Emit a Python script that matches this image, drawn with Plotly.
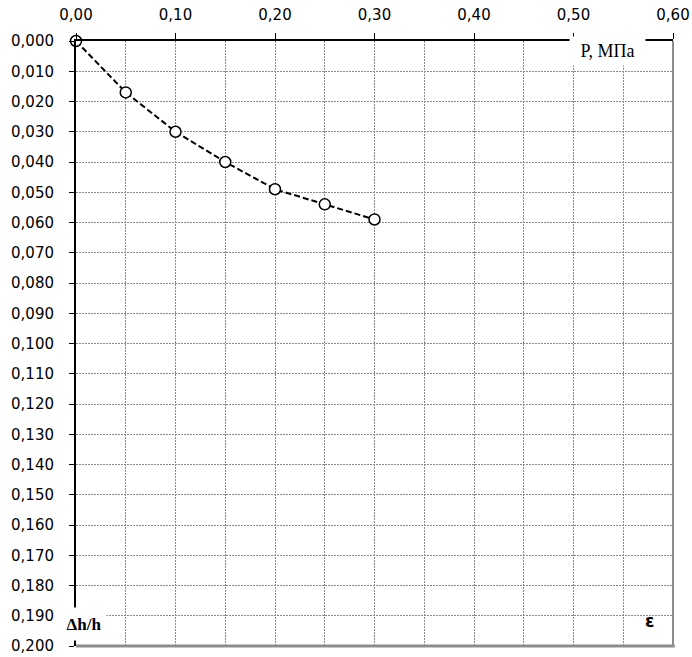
import plotly.graph_objects as go

# Data
pressure = [0.00, 0.05, 0.10, 0.15, 0.20, 0.25, 0.30]
strain = [0.000, 0.017, 0.030, 0.040, 0.049, 0.054, 0.059]

x_tickvals = [0.0, 0.1, 0.2, 0.3, 0.4, 0.5, 0.6]
x_ticktext = ["0,00", "0,10", "0,20", "0,30", "0,40", "0,50", "0,60"]
y_tickvals = [i / 1000 for i in range(0, 201, 10)]
y_ticktext = ["0,%03d" % i for i in range(0, 201, 10)]

GRID = "#8a8a8a"

fig = go.Figure()
fig.add_trace(go.Scatter(
    x=pressure, y=strain, mode="lines+markers",
    line=dict(color="black", width=2, dash="6px,3px"),
    marker=dict(size=11, color="white", line=dict(color="black", width=1.5)),
    showlegend=False, cliponaxis=False,
))

fig.update_layout(
    width=692, height=657,
    margin=dict(l=76, r=19, t=41, b=11, autoexpand=False),
    paper_bgcolor="white", plot_bgcolor="white",
    font=dict(family="DejaVu Sans, Liberation Sans, Arial", size=15, color="black"),
    xaxis=dict(
        side="top", range=[0, 0.6], tickvals=x_tickvals, ticktext=x_ticktext,
        showline=True, linecolor="black", linewidth=2,
        ticks="outside", ticklen=6, tickcolor="black", tickwidth=1,
        showgrid=True, gridcolor=GRID, gridwidth=1, griddash="2px,1px",
        minor=dict(dtick=0.05, tick0=0, showgrid=True, gridcolor=GRID,
                   gridwidth=1, griddash="2px,1px", ticks=""),
        zeroline=False, ticklabelstandoff=7, automargin=False,
    ),
    yaxis=dict(
        range=[0.2, 0.0], tickvals=y_tickvals, ticktext=y_ticktext,
        showline=True, linecolor="black", linewidth=2,
        ticks="outside", ticklen=5, tickcolor="black", tickwidth=1,
        showgrid=True, gridcolor=GRID, gridwidth=1, griddash="2px,1px",
        zeroline=False, ticklabelstandoff=12, automargin=False,
    ),
    shapes=[
        dict(type="line", xref="paper", yref="paper", x0=1, x1=1, y0=0, y1=1,
             line=dict(color="#8c8c8c", width=2)),
        dict(type="line", xref="paper", yref="paper", x0=0, x1=1.003, y0=0, y1=0,
             line=dict(color="#8c8c8c", width=3)),
    ],
    annotations=[
        dict(text="P, МПа", xref="paper", yref="paper", x=0.8895, y=0.983,
             xanchor="center", yanchor="middle",
             showarrow=False, bgcolor="white", width=73, height=26,
             font=dict(family="Liberation Serif, Times New Roman", size=18)),
        dict(text="<b>Δh/h</b>", xref="paper", yref="paper", x=0.0134, y=0.0364,
             xanchor="center", yanchor="middle",
             showarrow=False, bgcolor="white", width=42, height=30,
             font=dict(family="Liberation Serif, Times New Roman", size=17)),
        dict(text="<b>ε</b>", xref="paper", yref="paper", x=0.96, y=0.041,
             xanchor="center", yanchor="middle",
             showarrow=False,
             font=dict(family="DejaVu Sans", size=17)),
    ],
)

fig.write_html(
    "out.html",
    config={"displayModeBar": False, "staticPlot": True},
    post_script="document.body.style.margin='0';document.body.style.overflow='hidden';",
)
